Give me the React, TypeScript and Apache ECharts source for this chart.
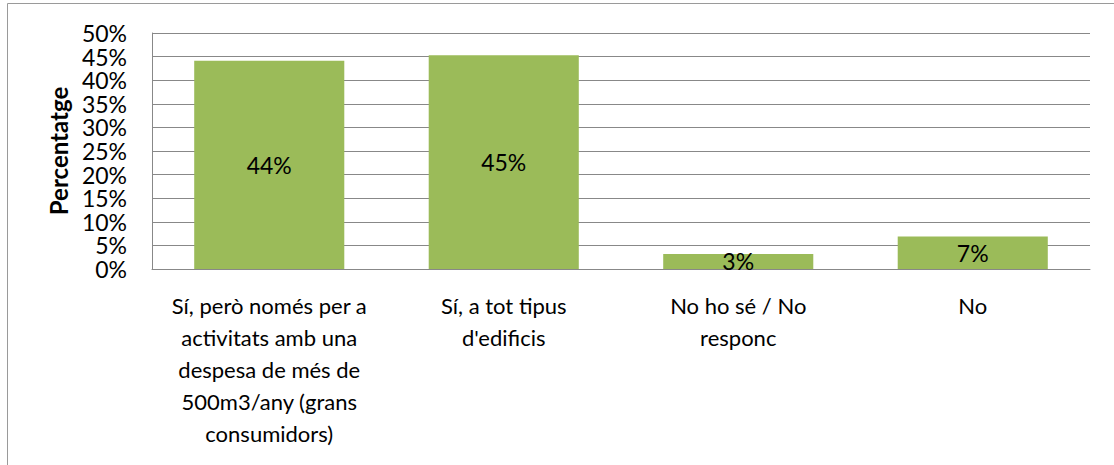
import React, { useEffect, useRef } from "react";
import * as echarts from "echarts";

const categories = [
  "Sí, però només per a\nactivitats amb una\ndespesa de més de\n500m3/any (grans\nconsumidors)",
  "Sí, a tot tipus\nd'edificis",
  "No ho sé / No\nresponc",
  "No",
];
const values = [44.1, 45.3, 3.2, 6.9];
const yTicks = { min: 0, max: 50, interval: 5 };
const yAxisName = "Percentatge";

const FONT = "Lato";

export default function App() {
  const ref = useRef<HTMLDivElement>(null);
  useEffect(() => {
    if (!ref.current) return;
    const chart = echarts.init(ref.current, undefined, { renderer: "svg" });
    chart.setOption({
      animation: false,
      textStyle: { fontFamily: FONT },
      graphic: [
        {
          type: "rect",
          shape: { x: 7.5, y: 3.5, width: 1200, height: 600 },
          style: { fill: "none", stroke: "#9a9a9a", lineWidth: 1 },
          silent: true,
        },
      ],
      grid: { left: 152, top: 33, right: 24, bottom: 196, containLabel: false },
      xAxis: {
        type: "category",
        data: categories,
        axisLine: { show: true, lineStyle: { color: "#888888", width: 1 } },
        axisTick: { show: false },
        axisLabel: {
          color: "#000",
          fontFamily: FONT,
          fontSize: 22,
          lineHeight: 32,
          margin: 20,
          interval: 0,
          align: "center",
        },
      },
      yAxis: {
        type: "value",
        min: yTicks.min,
        max: yTicks.max,
        interval: yTicks.interval,
        name: yAxisName,
        nameLocation: "middle",
        nameGap: 80,
        nameTextStyle: { color: "#000", fontFamily: FONT, fontSize: 24, fontWeight: "bold" },
        axisLine: { show: true, lineStyle: { color: "#888888", width: 1 } },
        axisTick: { show: false },
        axisLabel: {
          color: "#000",
          fontFamily: FONT,
          fontSize: 23,
          lineHeight: 21,
          margin: 25,
          formatter: "{value}%",
        },
        splitLine: { show: true, lineStyle: { color: "#888888", width: 1 } },
      },
      series: [
        {
          type: "bar",
          data: values,
          barCategoryGap: "36%",
          itemStyle: { color: "#9BBB59" },
          label: {
            show: true,
            position: "inside",
            color: "#000",
            fontFamily: FONT,
            fontSize: 23,
            formatter: (p: any) => Math.round(p.value) + "%",
          },
        },
      ],
    });
    return () => chart.dispose();
  }, []);
  return (
    <div
      ref={ref}
      style={{ position: "absolute", left: 0, top: 0, width: 1114, height: 465, background: "#fff" }}
    />
  );
}
